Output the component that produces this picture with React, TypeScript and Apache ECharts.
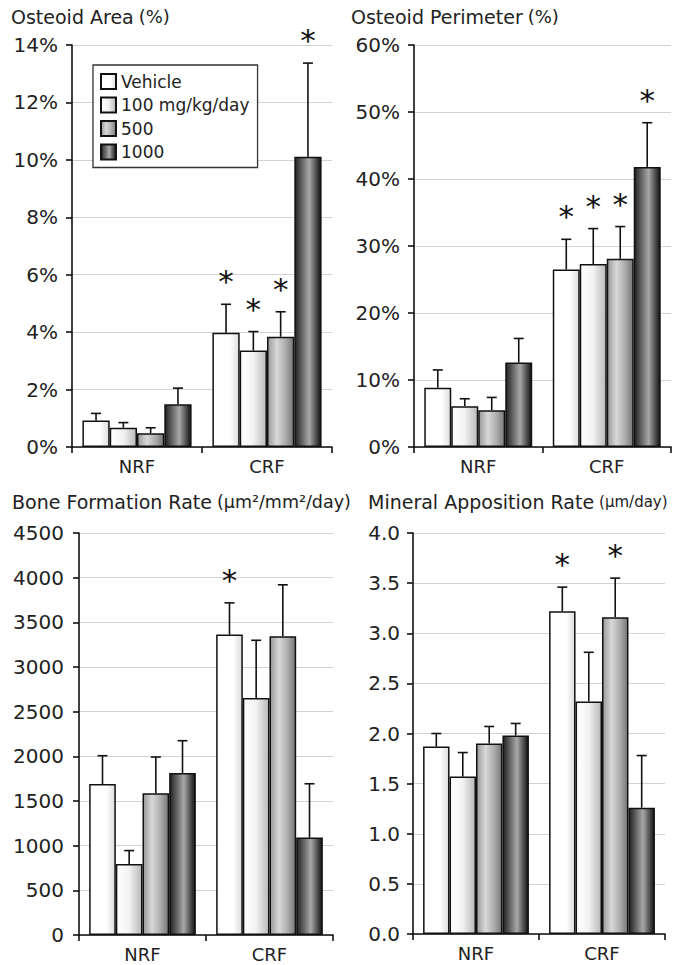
import React, { useEffect, useRef } from "react";
import * as echarts from "echarts";

const categories = ["NRF", "CRF"];
const groups = ["Vehicle", "100 mg/kg/day", "500", "1000"];

// Osteoid Area (%) — [NRF, CRF] per group
const oaMean = [[0.92, 3.98], [0.67, 3.36], [0.48, 3.84], [1.49, 10.11]];
const oaSE = [[0.25, 0.99], [0.18, 0.66], [0.19, 0.87], [0.56, 3.26]];
const oaSig = [[0, 1], [0, 1], [0, 1], [0, 1]];

// Osteoid Perimeter (%)
const opMean = [[8.85, 26.5], [6.1, 27.3], [5.5, 28.1], [12.6, 41.8]];
const opSE = [[2.65, 4.5], [1.1, 5.3], [1.9, 4.8], [3.6, 6.6]];
const opSig = [[0, 1], [0, 1], [0, 1], [0, 1]];

// Bone Formation Rate (µm²/mm²/day)
const bfrMean = [[1690, 3363], [796, 2653], [1588, 3344], [1813, 1091]];
const bfrSE = [[317, 355], [149, 646], [404, 576], [362, 602]];
const bfrSig = [[0, 1], [0, 0], [0, 0], [0, 0]];

// Mineral Apposition Rate (µm/day)
const marMean = [[1.87, 3.22], [1.57, 2.32], [1.9, 3.16], [1.98, 1.26]];
const marSE = [[0.13, 0.24], [0.24, 0.49], [0.17, 0.39], [0.12, 0.52]];
const marSig = [[0, 1], [0, 0], [0, 1], [0, 0]];

const FONT = "DejaVu Sans";
const GAP = 0.16;

const fills = [
  new echarts.graphic.LinearGradient(0, 0, 1, 0, [
    { offset: 0, color: "#ffffff" },
    { offset: 0.65, color: "#ffffff" },
    { offset: 1, color: "#dcdcdc" },
  ]),
  new echarts.graphic.LinearGradient(0, 0, 1, 0, [
    { offset: 0, color: "#ffffff" },
    { offset: 0.5, color: "#f2f2f2" },
    { offset: 1, color: "#b8b8b8" },
  ]),
  new echarts.graphic.LinearGradient(0, 0, 1, 0, [
    { offset: 0, color: "#999999" },
    { offset: 0.35, color: "#d8d8d8" },
    { offset: 0.7, color: "#ababab" },
    { offset: 1, color: "#777777" },
  ]),
  new echarts.graphic.LinearGradient(0, 0, 1, 0, [
    { offset: 0, color: "#222222" },
    { offset: 0.55, color: "#a8a8a8" },
    { offset: 1, color: "#121212" },
  ]),
];

const panels = [
  { mean: oaMean, se: oaSE, sig: oaSig, max: 14, interval: 2, fmt: (v: number) => v + "%", grid: { left: 72, top: 45, width: 260, height: 402 }, margin: 14 },
  { mean: opMean, se: opSE, sig: opSig, max: 60, interval: 10, fmt: (v: number) => v + "%", grid: { left: 414, top: 45, width: 257, height: 402 }, margin: 14 },
  { mean: bfrMean, se: bfrSE, sig: bfrSig, max: 4500, interval: 500, fmt: (v: number) => String(v), grid: { left: 79, top: 533, width: 254, height: 402 }, margin: 15 },
  { mean: marMean, se: marSE, sig: marSig, max: 4, interval: 0.5, fmt: (v: number) => v.toFixed(1), grid: { left: 413, top: 533, width: 252, height: 401 }, margin: 13 },
];

function errRender(gi: number) {
  return (params: any, api: any) => {
    const cat = api.value(0);
    const mean = api.value(1);
    const top = api.value(2);
    const sig = api.value(3);
    const base = api.coord([cat, mean]);
    const tp = api.coord([cat, top]);
    const band = api.size([1, 0])[0];
    const inner = band * (1 - GAP);
    const bw = inner / 4;
    const x = base[0] - inner / 2 + (gi + 0.5) * bw;
    const children: any[] = [
      { type: "line", shape: { x1: x, y1: base[1], x2: x, y2: tp[1] }, style: { stroke: "#111", lineWidth: 1.6 } },
      { type: "line", shape: { x1: x - 5, y1: tp[1], x2: x + 5, y2: tp[1] }, style: { stroke: "#111", lineWidth: 1.6 } },
    ];
    if (sig) {
      children.push({
        type: "text",
        x: x,
        y: tp[1] - 23,
        style: { text: "*", fill: "#111", font: `31px "${FONT}"`, align: "center", verticalAlign: "middle" },
      });
    }
    return { type: "group", children };
  };
}

export default function App() {
  const ref = useRef<HTMLDivElement>(null);
  useEffect(() => {
    if (!ref.current) return;
    const chart = echarts.init(ref.current, null, { renderer: "svg" });
    const grid: any[] = [];
    const xAxis: any[] = [];
    const yAxis: any[] = [];
    const series: any[] = [];
    panels.forEach((p, pi) => {
      grid.push(p.grid);
      xAxis.push({
        type: "category",
        gridIndex: pi,
        data: categories,
        axisLine: { lineStyle: { color: "#111", width: 1.6 } },
        axisTick: { show: true, length: 6, lineStyle: { color: "#111", width: 1.6 } },
        axisLabel: { color: "#222", fontSize: 18, fontFamily: FONT, margin: 10 },
      });
      yAxis.push({
        type: "value",
        gridIndex: pi,
        min: 0,
        max: p.max,
        interval: p.interval,
        axisLine: { show: true, lineStyle: { color: "#111", width: 1.6 } },
        axisTick: { show: true, length: 6, lineStyle: { color: "#111", width: 1.6 } },
        axisLabel: { color: "#222", fontSize: 20, fontFamily: FONT, margin: p.margin, formatter: p.fmt },
        splitLine: { show: true, lineStyle: { color: "#d2d2d2", width: 1 } },
      });
      groups.forEach((g, gi) => {
        series.push({
          type: "bar",
          name: g,
          xAxisIndex: pi,
          yAxisIndex: pi,
          data: p.mean[gi],
          barGap: "0%",
          barCategoryGap: GAP * 100 + "%",
          itemStyle: { color: fills[gi], borderColor: "#111", borderWidth: 1.5 },
          emphasis: { disabled: true },
        });
      });
      groups.forEach((g, gi) => {
        series.push({
          type: "custom",
          name: "err" + pi + "_" + gi,
          xAxisIndex: pi,
          yAxisIndex: pi,
          clip: false,
          z: 5,
          renderItem: errRender(gi),
          encode: { x: 0, y: [1, 2] },
          data: categories.map((c, ci) => [ci, p.mean[gi][ci], p.mean[gi][ci] + p.se[gi][ci], p.sig[gi][ci]]),
        });
      });
    });

    const titleStyle = (a: string, b: string, bSize: number) => ({
      text: `{a|${a}} {b|${b}}`,
      padding: 0,
      textStyle: {
        rich: {
          a: { fontSize: 19, fontFamily: FONT, color: "#222", fontWeight: "normal" },
          b: { fontSize: bSize, fontFamily: FONT, color: "#222", fontWeight: "normal" },
        },
      },
    });

    chart.setOption({
      animation: false,
      backgroundColor: "#ffffff",
      title: [
        { ...titleStyle("Osteoid Area", "(%)", 18), left: 11, top: 7 },
        { ...titleStyle("Osteoid Perimeter", "(%)", 18), left: 351, top: 7 },
        { ...titleStyle("Bone Formation Rate", "(µm²/mm²/day)", 17.5), left: 12, top: 492 },
        { ...titleStyle("Mineral Apposition Rate", "(µm/day)", 15), left: 368, top: 492 },
      ],
      legend: {
        data: groups,
        orient: "vertical",
        left: 93,
        top: 65,
        padding: [8, 8, 7, 7],
        borderColor: "#333",
        borderWidth: 1.3,
        backgroundColor: "#ffffff",
        icon: "rect",
        itemWidth: 15,
        itemHeight: 15,
        itemGap: 6.5,
        selectedMode: false,
        textStyle: { fontSize: 17, lineHeight: 15, fontFamily: FONT, color: "#222" },
      },
      grid,
      xAxis,
      yAxis,
      series,
    });
    return () => chart.dispose();
  }, []);
  return (
    <div
      ref={ref}
      style={{ position: "absolute", left: 0, top: 0, width: 676, height: 965, background: "#fff" }}
    />
  );
}
